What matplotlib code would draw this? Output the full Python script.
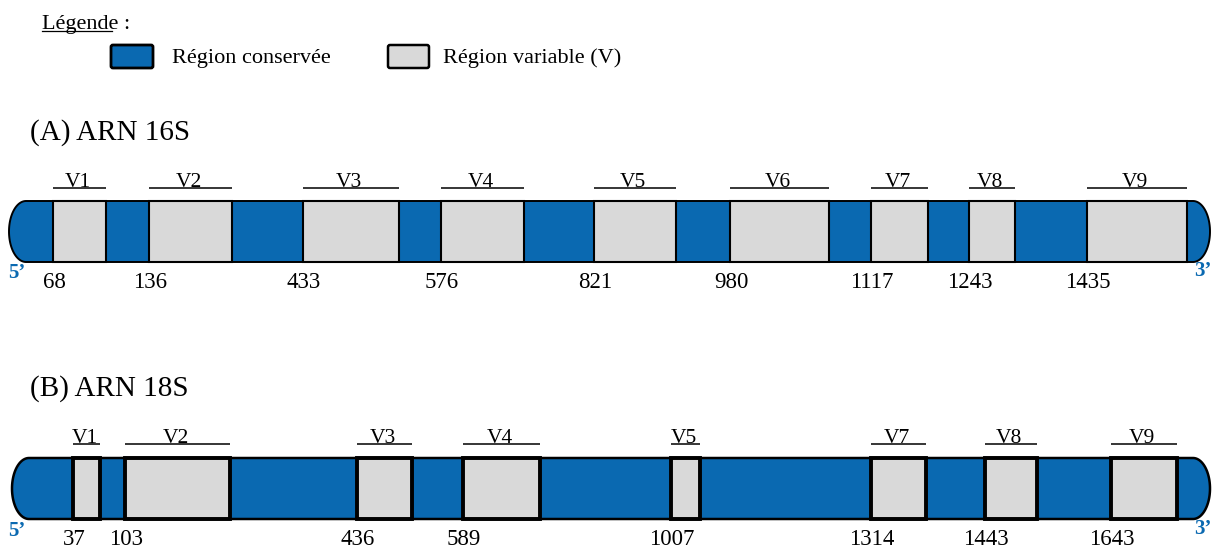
import matplotlib
matplotlib.use("Agg")
import matplotlib.pyplot as plt
from matplotlib.path import Path
from matplotlib.patches import PathPatch, Rectangle, FancyBboxPatch
import numpy as np

# ---------------- data (schematic units, 0..1220 along the strip) ----------------
BLUE = "#0A69B1"
GREY = "#D9D9D9"

legend_title = "Légende :"
legend_labels = ["Région conservée", "Région variable (V)"]

title_16 = "(A) ARN 16S"
v16_labels = ["V1", "V2", "V3", "V4", "V5", "V6", "V7", "V8", "V9"]
v16_start = [53, 149, 303, 441, 594, 730, 871, 969, 1087]
v16_end = [106, 232, 399, 524, 676, 829, 928, 1015, 1187]
v16_numbers = [68, 136, 433, 576, 821, 980, 1117, 1243, 1435]
strip16 = (9, 1210)

title_18 = "(B) ARN 18S"
v18_labels = ["V1", "V2", "V3", "V4", "V5", "V7", "V8", "V9"]
v18_start = [73, 125, 357, 463, 671, 871, 985, 1111]
v18_end = [100, 230, 412, 540, 700, 926, 1037, 1177]
v18_numbers = [37, 103, 436, 589, 1007, 1314, 1443, 1643]
strip18 = (12, 1210)

SERIF = ["Liberation Serif", "DejaVu Serif"]

fig = plt.figure(figsize=(12.2, 5.5), dpi=100)
ax = fig.add_axes([0, 0, 1, 1])
ax.set_xlim(0, 1220)
ax.set_ylim(550, 0)
ax.axis("off")


def capsule(x0, x1, ytop, ybot, r):
    ymid = (ytop + ybot) / 2
    hh = (ybot - ytop) / 2
    t1 = np.linspace(np.pi / 2, 3 * np.pi / 2, 60)
    left = np.column_stack([x0 + r + r * np.cos(t1), ymid - hh * np.sin(t1)])
    t2 = np.linspace(-np.pi / 2, np.pi / 2, 60)
    right = np.column_stack([x1 - r + r * np.cos(t2), ymid - hh * np.sin(t2)])
    verts = np.vstack([left, right, left[:1]])
    codes = [Path.MOVETO] + [Path.LINETO] * (len(verts) - 2) + [Path.CLOSEPOLY]
    return Path(verts, codes)


def draw_strip(title, title_y, labels, starts, ends, numbers, extent,
               ytop, ybot, box_lw, outline_lw, line_y, num_y, prime_y):
    ax.text(30, title_y, title, fontsize=21, family=SERIF, ha="left", va="baseline")
    path = capsule(extent[0], extent[1], ytop, ybot, 17)
    ax.add_patch(PathPatch(path, facecolor=BLUE, edgecolor="none", zorder=1))
    for s, e in zip(starts, ends):
        ax.add_patch(Rectangle((s, ytop), e - s, ybot - ytop, facecolor=GREY,
                               edgecolor="black", lw=box_lw, zorder=2))
    ax.add_patch(PathPatch(path, facecolor="none", edgecolor="black",
                           lw=outline_lw, zorder=3))
    for lab, s, e in zip(labels, starts, ends):
        ax.plot([s, e], [line_y, line_y], color="black", lw=1.1,
                solid_capstyle="butt", zorder=3)
        ax.text((s + e) / 2 - 2, line_y - 1, lab, fontsize=15.5, family=SERIF,
                ha="center", va="baseline")
    for n, s in zip(numbers, starts):
        ax.text(s + 1, num_y, str(n), fontsize=16.5, family=SERIF,
                ha="center", va="baseline")
    ax.text(17, prime_y, "5\u2019", fontsize=15, family=SERIF, weight="bold",
            color=BLUE, ha="center", va="center")
    ax.text(1203, prime_y - 2, "3\u2019", fontsize=15, family=SERIF, weight="bold",
            color=BLUE, ha="center", va="center")


# ---------------- legend ----------------
ax.text(42, 29, legend_title, fontsize=16, family=SERIF, ha="left", va="baseline")
ax.plot([42, 112], [31, 31], color="black", lw=0.9)
ax.add_patch(FancyBboxPatch((111, 45), 42, 23, boxstyle="round,pad=0,rounding_size=2",
                            facecolor=BLUE, edgecolor="black", lw=2))
ax.text(172, 63, legend_labels[0], fontsize=16, family=SERIF, ha="left", va="baseline")
ax.add_patch(FancyBboxPatch((388, 45), 41, 23, boxstyle="round,pad=0,rounding_size=2",
                            facecolor=GREY, edgecolor="black", lw=1.8))
ax.text(443, 63, legend_labels[1], fontsize=16, family=SERIF, ha="left", va="baseline")

# ---------------- strips ----------------
draw_strip(title_16, 140, v16_labels, v16_start, v16_end, v16_numbers, strip16,
           201, 262, 1.5, 1.4, 188, 288, 273)
draw_strip(title_18, 396, v18_labels, v18_start, v18_end, v18_numbers, strip18,
           458, 519, 2.8, 1.8, 444, 545, 531)

fig.savefig("out.png", dpi=100)
